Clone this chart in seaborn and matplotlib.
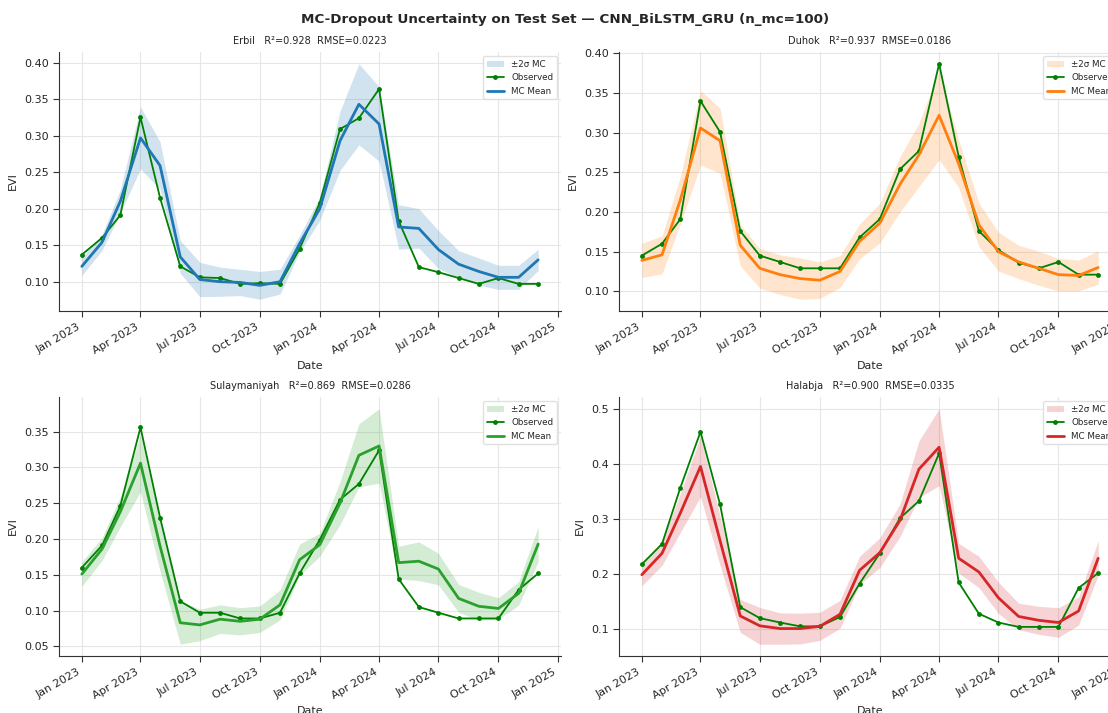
import numpy as np
import pandas as pd
import matplotlib
matplotlib.use("Agg")
import matplotlib.pyplot as plt
import matplotlib.dates as mdates
import seaborn as sns

# ---------------- data ----------------
dates = pd.date_range("2023-01-01", "2024-12-01", freq="MS")

regions = ["Erbil", "Duhok", "Sulaymaniyah", "Halabja"]
r2_scores = [0.928, 0.937, 0.869, 0.900]
rmse_scores = [0.0223, 0.0186, 0.0286, 0.0335]
mean_colors = ["#1f77b4", "#ff7f0e", "#2ca02c", "#d62728"]

erbil_obs = [0.137, 0.160, 0.191, 0.325, 0.215, 0.121, 0.106, 0.105, 0.097, 0.098, 0.097, 0.145,
             0.208, 0.309, 0.324, 0.364, 0.183, 0.120, 0.113, 0.105, 0.097, 0.105, 0.097, 0.097]
erbil_mean = [0.121, 0.154, 0.210, 0.297, 0.259, 0.134, 0.103, 0.100, 0.099, 0.095, 0.100, 0.152,
              0.200, 0.293, 0.343, 0.316, 0.175, 0.173, 0.144, 0.124, 0.114, 0.106, 0.106, 0.130]
erbil_2sd = [0.0125, 0.011, 0.016, 0.0425, 0.0325, 0.0225, 0.0235, 0.020, 0.018, 0.019, 0.017, 0.0115,
             0.016, 0.0405, 0.0555, 0.051, 0.0305, 0.027, 0.026, 0.0185, 0.0185, 0.0165, 0.0165, 0.0145]

duhok_obs = [0.145, 0.160, 0.191, 0.340, 0.301, 0.176, 0.145, 0.137, 0.129, 0.129, 0.129, 0.168,
             0.191, 0.254, 0.277, 0.387, 0.270, 0.176, 0.152, 0.136, 0.129, 0.137, 0.121, 0.121]
duhok_mean = [0.139, 0.146, 0.215, 0.306, 0.290, 0.158, 0.129, 0.121, 0.116, 0.114, 0.125, 0.163,
              0.186, 0.235, 0.272, 0.322, 0.261, 0.184, 0.150, 0.137, 0.129, 0.121, 0.120, 0.130]
duhok_2sd = [0.0215, 0.024, 0.030, 0.047, 0.041, 0.026, 0.025, 0.025, 0.026, 0.023, 0.020, 0.022,
             0.025, 0.035, 0.040, 0.056, 0.030, 0.0275, 0.0245, 0.021, 0.0215, 0.0205, 0.0195, 0.021]

sulay_obs = [0.160, 0.191, 0.246, 0.356, 0.230, 0.113, 0.097, 0.097, 0.089, 0.089, 0.097, 0.152,
             0.199, 0.255, 0.277, 0.324, 0.144, 0.105, 0.097, 0.089, 0.089, 0.089, 0.129, 0.152]
sulay_mean = [0.151, 0.186, 0.238, 0.306, 0.190, 0.083, 0.080, 0.088, 0.085, 0.088, 0.108, 0.171,
              0.192, 0.250, 0.317, 0.330, 0.167, 0.169, 0.158, 0.117, 0.106, 0.103, 0.124, 0.193]
sulay_2sd = [0.017, 0.016, 0.021, 0.040, 0.035, 0.030, 0.022, 0.020, 0.019, 0.0185, 0.021, 0.022,
             0.016, 0.030, 0.044, 0.052, 0.023, 0.027, 0.022, 0.0195, 0.0195, 0.015, 0.0165, 0.0245]

halab_obs = [0.217, 0.254, 0.356, 0.458, 0.326, 0.139, 0.119, 0.111, 0.104, 0.104, 0.121, 0.182,
             0.237, 0.301, 0.332, 0.419, 0.184, 0.127, 0.111, 0.103, 0.103, 0.103, 0.174, 0.201]
halab_mean = [0.198, 0.237, 0.310, 0.395, 0.260, 0.123, 0.105, 0.100, 0.100, 0.104, 0.126, 0.206,
              0.238, 0.297, 0.390, 0.430, 0.228, 0.203, 0.156, 0.122, 0.115, 0.111, 0.132, 0.228]
halab_2sd = [0.020, 0.022, 0.035, 0.055, 0.045, 0.030, 0.0335, 0.0285, 0.028, 0.0255, 0.0255, 0.0255,
             0.027, 0.0295, 0.0515, 0.070, 0.027, 0.0285, 0.0285, 0.024, 0.0255, 0.027, 0.0255, 0.0315]

observed = [erbil_obs, duhok_obs, sulay_obs, halab_obs]
mc_means = [erbil_mean, duhok_mean, sulay_mean, halab_mean]
mc_2sd = [erbil_2sd, duhok_2sd, sulay_2sd, halab_2sd]

suptitle = "MC-Dropout Uncertainty on Test Set — CNN_BiLSTM_GRU (n_mc=100)"

# ---------------- style ----------------
sns.set_style("ticks", {"axes.grid": True, "grid.color": "#e6e6e6",
                        "axes.edgecolor": "#333333"})
plt.rcParams["font.family"] = ["DejaVu Sans"]

W, H = 1108, 713
fig = plt.figure(figsize=(W / 100, H / 100), dpi=100)

# axes boxes in pixels: (left, top, width, height)
boxes = [(59, 52, 502, 259), (619, 52, 502, 259),
         (59, 397, 502, 259), (619, 397, 502, 259)]

for i, region in enumerate(regions):
    l, t, w, h = boxes[i]
    ax = fig.add_axes([l / W, 1 - (t + h) / H, w / W, h / H])
    df = pd.DataFrame({"Date": dates,
                       "obs": observed[i],
                       "mean": mc_means[i],
                       "sd2": mc_2sd[i]})
    lo = df["mean"] - df["sd2"]
    hi = df["mean"] + df["sd2"]
    ax.fill_between(df["Date"], lo, hi, color=mean_colors[i], alpha=0.2,
                    linewidth=0, label="±2σ MC")
    sns.lineplot(data=df, x="Date", y="obs", ax=ax, color="green", lw=1.3,
                 marker="o", markersize=3.5, markeredgewidth=0, label="Observed")
    sns.lineplot(data=df, x="Date", y="mean", ax=ax, color=mean_colors[i], lw=2,
                 label="MC Mean")
    ax.set_title(f"{region}   R²={r2_scores[i]:.3f}  RMSE={rmse_scores[i]:.4f}",
                 fontsize=7, color="#222222")
    ax.set_xlabel("Date", fontsize=8)
    ax.set_ylabel("EVI", fontsize=8)
    ax.xaxis.set_major_locator(mdates.MonthLocator(bymonth=[1, 4, 7, 10]))
    ax.xaxis.set_major_formatter(mdates.DateFormatter("%b %Y"))
    ax.tick_params(labelsize=8, length=4, width=0.8, color="#333333")
    for lab in ax.get_xticklabels():
        lab.set_rotation(30)
        lab.set_ha("right")
    ax.grid(True, color="#e6e6e6", lw=0.8)
    sns.despine(ax=ax)
    ax.legend(loc="upper right", fontsize=6.3, frameon=True,
              framealpha=0.9, edgecolor="#dddddd")

fig.text(565 / W, 1 - 19 / H, suptitle, ha="center", va="center",
         fontsize=9.7, fontweight="bold")

fig.savefig("out.png", dpi=100)
